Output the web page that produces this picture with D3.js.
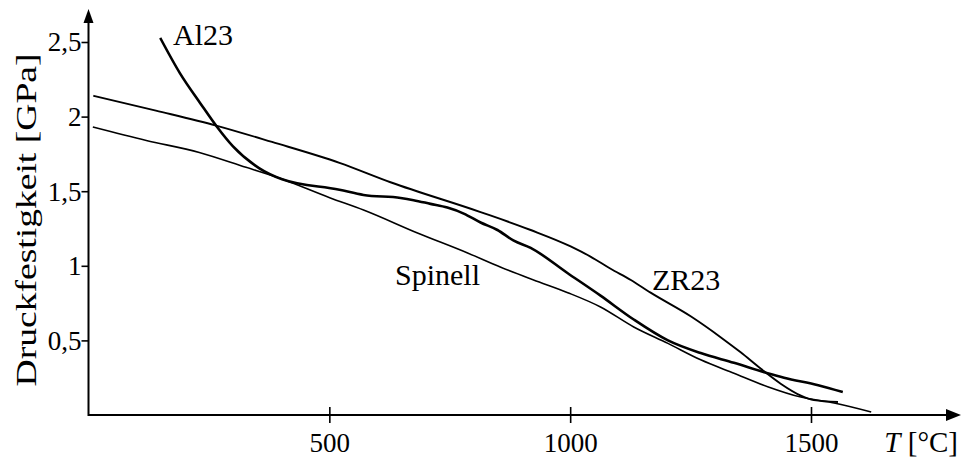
<!DOCTYPE html>
<html>
<head>
<meta charset="utf-8">
<script src="https://cdnjs.cloudflare.com/ajax/libs/d3/7.8.5/d3.min.js"></script>
<style>
  body { margin: 0; background: #fff; }
  text { font-family: "Liberation Serif", "Times New Roman", "DejaVu Serif", serif; fill: #000; }
</style>
</head>
<body>
<script>
// Werte (T in °C, Druckfestigkeit in GPa)
var zr23T = [10, 140, 265, 381, 521, 627, 814, 918, 1001, 1043, 1084, 1126, 1167, 1251, 1313, 1354, 1396, 1437, 1479, 1506, 1556]
var zr23P = [2.14, 2.04, 1.94, 1.83, 1.69, 1.56, 1.36, 1.24, 1.13, 1.06, 0.98, 0.905, 0.82, 0.66, 0.52, 0.42, 0.31, 0.21, 0.13, 0.10, 0.087]

var al23T = [149, 190, 232, 267, 300, 354, 402, 521, 571, 648, 675, 710, 745, 779, 814, 849, 882, 918, 995, 1063, 1132, 1203, 1271, 1340, 1410, 1444, 1515, 1566]
var al23P = [2.527, 2.29, 2.09, 1.93, 1.80, 1.655, 1.58, 1.51, 1.475, 1.455, 1.44, 1.415, 1.39, 1.35, 1.29, 1.24, 1.17, 1.12, 0.95, 0.80, 0.64, 0.50, 0.415, 0.35, 0.28, 0.25, 0.20, 0.154]

var spinellT = [9, 120, 230, 327, 390, 502, 571, 683, 787, 856, 924, 995, 1063, 1132, 1203, 1271, 1340, 1410, 1479, 1548, 1625]
var spinellP = [1.93, 1.84, 1.76, 1.66, 1.595, 1.455, 1.374, 1.22, 1.086, 0.99, 0.905, 0.82, 0.724, 0.59, 0.48, 0.37, 0.28, 0.19, 0.12, 0.08, 0.02]

var xTicks = [500, 1000, 1500]
var yTicks = [0.5, 1, 1.5, 2, 2.5]

var width = 963, height = 459;
var serif = '"Liberation Serif", "Times New Roman", "DejaVu Serif", serif';

var svg = d3.select("body").append("svg")
  .attr("width", width)
  .attr("height", height)

var x = d3.scaleLinear()
  .domain([0, 1500])
  .range([88.5, 811])

var y = d3.scaleLinear()
  .domain([0, 2.5])
  .range([415, 42])

// Achsen
var xAxis = d3.axisBottom(x)
  .tickValues(xTicks)
  .tickSize(8)
  .tickPadding(10)
  .tickFormat(d3.format("d"))

var yAxis = d3.axisLeft(y)
  .tickValues(yTicks)
  .tickSize(7)
  .tickPadding(0)
  .tickFormat(function(d) { return String(d).replace(".", ","); })

var gx = svg.append("g")
  .attr("class", "x axis")
  .attr("transform", "translate(0," + y(0) + ")")
  .call(xAxis)

var gy = svg.append("g")
  .attr("class", "y axis")
  .attr("transform", "translate(" + x(0) + ",0)")
  .call(yAxis)

gx.select(".domain").remove()
gy.select(".domain").remove()

gx.selectAll(".tick line").attr("y1", -8).attr("stroke", "#000").attr("stroke-width", 1.6)
gy.selectAll(".tick line").attr("stroke", "#000").attr("stroke-width", 1.6)

gx.selectAll(".tick text")
  .style("font-family", serif)
  .style("font-size", "27px")
  .attr("dy", "0.7em")
gy.selectAll(".tick text")
  .style("font-family", serif)
  .style("font-size", "27px")
  .attr("dy", "0.33em")

// Achsenlinien mit Pfeilen
svg.append("line")
  .attr("x1", x(0)).attr("y1", y(0))
  .attr("x2", 950).attr("y2", y(0))
  .attr("stroke", "#000").attr("stroke-width", 2)
svg.append("line")
  .attr("x1", x(0)).attr("y1", y(0) + 1)
  .attr("x2", x(0)).attr("y2", 20)
  .attr("stroke", "#000").attr("stroke-width", 2)

svg.append("path")
  .attr("d", "M961," + y(0) + " L946," + (y(0) - 6) + " L946," + (y(0) + 6) + " Z")
  .attr("fill", "#000")
svg.append("path")
  .attr("d", "M" + x(0) + ",9 L" + (x(0) - 5) + ",23 L" + (x(0) + 5) + ",23 Z")
  .attr("fill", "#000")

// Kurven
var line = d3.line()
  .curve(d3.curveMonotoneX)
  .x(function(d) { return x(d[0]); })
  .y(function(d) { return y(d[1]); })

function pairs(ts, ps) {
  return ts.map(function(t, i) { return [t, ps[i]]; });
}

svg.append("path")
  .datum(pairs(spinellT, spinellP))
  .attr("fill", "none")
  .attr("stroke", "#000")
  .attr("stroke-width", 1.6)
  .attr("d", line)

svg.append("path")
  .datum(pairs(zr23T, zr23P))
  .attr("fill", "none")
  .attr("stroke", "#000")
  .attr("stroke-width", 1.9)
  .attr("d", line)

svg.append("path")
  .datum(pairs(al23T, al23P))
  .attr("fill", "none")
  .attr("stroke", "#000")
  .attr("stroke-width", 2.6)
  .attr("d", line)

// Beschriftungen
svg.append("text")
  .attr("x", 173).attr("y", 45)
  .style("font-size", "30px")
  .text("Al23")

svg.append("text")
  .attr("x", 395).attr("y", 285)
  .style("font-size", "30px")
  .text("Spinell")

svg.append("text")
  .attr("x", 652).attr("y", 290)
  .style("font-size", "30px")
  .text("ZR23")

var tl = svg.append("text")
  .attr("x", 958).attr("y", 452)
  .attr("text-anchor", "end")
  .style("font-size", "29px")
tl.append("tspan").style("font-style", "italic").text("T")
tl.append("tspan").text(" [°C]")

svg.append("text")
  .attr("transform", "translate(36,220) rotate(-90)")
  .attr("text-anchor", "middle")
  .attr("textLength", 333)
  .attr("lengthAdjust", "spacingAndGlyphs")
  .style("font-size", "30px")
  .text("Druckfestigkeit [GPa]")
</script>
</body>
</html>
